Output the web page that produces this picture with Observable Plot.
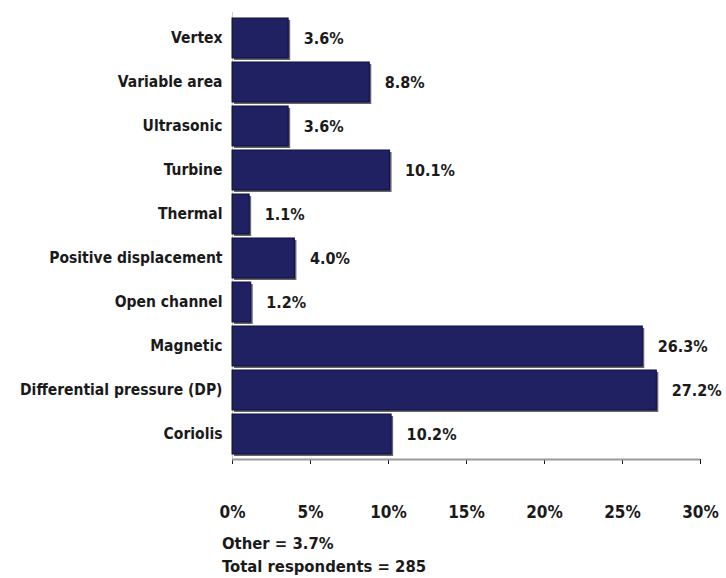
<!DOCTYPE html>
<html>
<head>
<meta charset="utf-8">
<script src="https://cdn.jsdelivr.net/npm/d3@7"></script>
<script src="https://cdn.jsdelivr.net/npm/@observablehq/plot@0.6"></script>
<style>
  body { margin: 0; background: #fff; }
  #chart { width: 726px; }
  svg text { font-stretch: condensed; }
  .cap { font-family: "DejaVu Sans Condensed", "DejaVu Sans", sans-serif; font-stretch: condensed; font-weight: bold; font-size: 16.5px; color: #1a1a1a; margin-left: 222px; margin-top: 4px; line-height: 23px; }
</style>
</head>
<body>
<div id="chart"></div>
<script>
const categories = ["Vertex", "Variable area", "Ultrasonic", "Turbine", "Thermal", "Positive displacement", "Open channel", "Magnetic", "Differential pressure (DP)", "Coriolis"];
const values = [3.6, 8.8, 3.6, 10.1, 1.1, 4.0, 1.2, 26.3, 27.2, 10.2];
const xTicks = [0, 5, 10, 15, 20, 25, 30];
const captions = ["Other = 3.7%", "Total respondents = 285"];

const data = categories.map((c, i) => ({ cat: c, v: values[i] }));
const font = '"DejaVu Sans Condensed", "DejaVu Sans", sans-serif';

const H = 528, mT = 12, mB = 69;
const halfFrame = (H - mT - mB) / 2;

const chart = Plot.plot({
  width: 726,
  height: H,
  marginLeft: 232,
  marginRight: 26,
  marginTop: mT,
  marginBottom: mB,
  style: { fontFamily: font, fontWeight: "bold", fontStretch: "condensed", fontSize: "17px", color: "#1a1a1a", background: "#fff" },
  x: { domain: [0, 30], ticks: xTicks, tickFormat: d => d + "%", label: null, tickSize: 5, tickPadding: 41, line: true },
  y: { domain: categories, padding: 0.1, label: null },
  marks: [
    Plot.axisY({ tickSize: 0, tickPadding: 10, fontSize: 15.5 }),
    Plot.ruleX([0], { stroke: "#ccc", strokeWidth: 1 }),
    Plot.ruleY([0], { x1: 0, x2: 30, y: null, dy: halfFrame, stroke: "#999", strokeWidth: 2 }),
    Plot.barX(data, { x: "v", y: "cat", fill: "#666", dx: 2, dy: 2 }),
    Plot.barX(data, { x: "v", y: "cat", fill: "#1f2163", stroke: "#0e0f3a", strokeWidth: 1 }),
    Plot.text(data, { x: "v", y: "cat", text: d => d.v.toFixed(1) + "%", textAnchor: "start", dx: 15, fontSize: 16, fill: "#1a1a1a" })
  ]
});
document.getElementById("chart").appendChild(chart);
const cap = document.createElement("div");
cap.className = "cap";
cap.innerHTML = captions.map(t => `<div>${t}</div>`).join("");
document.getElementById("chart").appendChild(cap);
</script>
</body>
</html>
